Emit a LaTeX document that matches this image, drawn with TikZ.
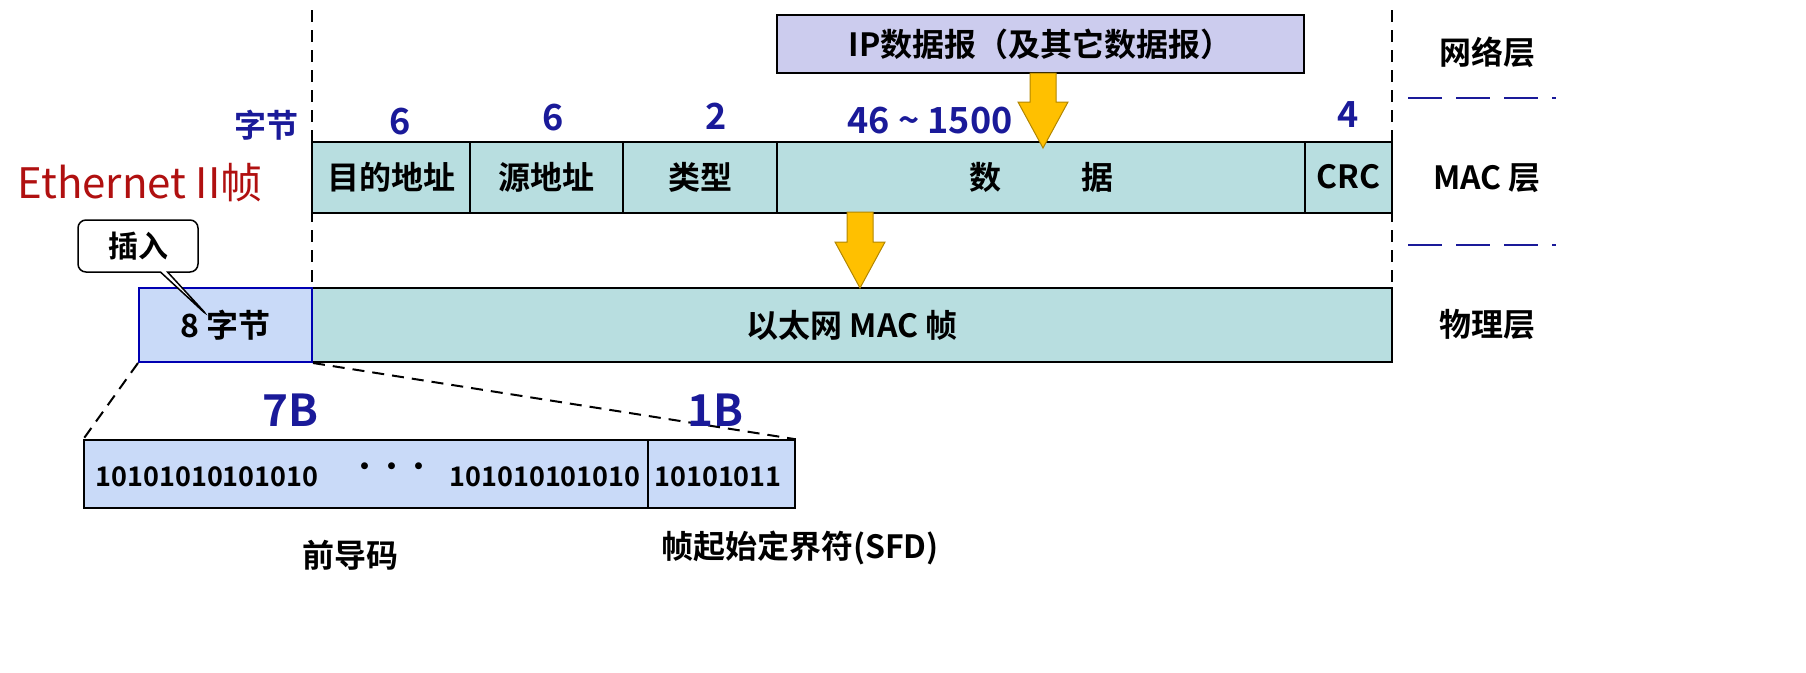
\documentclass[tikz,border=0pt]{standalone}
\usepackage{fontspec}
\setmainfont{Noto Sans CJK SC}[BoldFont={Noto Sans CJK SC Bold}]
\usetikzlibrary{shapes.callouts}
\definecolor{macfill}{HTML}{B8DEE0}
\definecolor{prefill}{HTML}{C9DAF8}
\definecolor{ipfill}{HTML}{CCCCEE}
\definecolor{numblue}{HTML}{1A1A99}
\definecolor{ethred}{HTML}{B01010}
\definecolor{arrowfill}{HTML}{FFC000}
\tikzset{
    field/.style={draw, line width=2pt, fill=macfill, minimum height=71pt, inner sep=0pt, font=\bfseries\fontsize{32}{34}\selectfont},
    num/.style={text=numblue, font=\bfseries\fontsize{36}{38}\selectfont},
    layer/.style={font=\bfseries\fontsize{32}{34}\selectfont},
    bits/.style={font=\bfseries\fontsize{27}{29}\selectfont},
    sep/.style={dashed, numblue, line width=2.5pt, dash pattern=on 34pt off 14pt},
    guide/.style={dashed, line width=2pt, dash pattern=on 12pt off 8pt},
    down/.style={fill=arrowfill, draw=arrowfill!70!black, line width=1pt}
}
\begin{document}
\begin{tikzpicture}[x=1pt, y=-1pt]
\useasboundingbox (0,0) rectangle (1806,672);

% guides
\draw[guide] (312,10) -- (312,288);
\draw[guide] (1392,10) -- (1392,288);

% network layer
\node[field, fill=ipfill, minimum width=527pt, minimum height=58pt, line width=1.5pt] (ip) at (1040.5,44) {IP数据报（及其它数据报）};

% MAC frame fields
\node[field, minimum width=158pt] (dst) at (391,177) {目的地址};
\node[field, minimum width=153pt] (src) at (546.5,177) {源地址};
\node[field, minimum width=154pt] (type) at (700,177) {类型};
\node[field, minimum width=528pt] (data) at (1041,177) {数\hspace{80pt}据};
\node[field, minimum width=87pt] (crc) at (1348.5,177) {CRC};

\node[num, font=\bfseries\fontsize{32}{34}\selectfont] (unit) at (266,125) {字节};
\node[num] (n1) at (400,122) {6};
\node[num] (n2) at (553,118) {6};
\node[num] (n3) at (716,116) {2};
\node[num] (n4) at (930,121) {46 \textasciitilde{} 1500};
\node[num] (n5) at (1348,115) {4};

\node[text=ethred, font=\fontsize{42}{44}\selectfont] (eth) at (140,183) {Ethernet II帧};

% physical layer
\node[field, minimum width=1080pt, minimum height=74pt] (frame) at (852,325) {以太网 MAC 帧};
\node[field, fill=prefill, draw=blue!70!black, minimum width=173pt, minimum height=74pt] (pre) at (225.5,325) {8 字节};

% callout
\node[rectangle callout, rounded corners=8pt, draw, line width=1.5pt, fill=white, minimum width=120pt, minimum height=52pt, font=\bfseries\fontsize{30}{32}\selectfont, callout absolute pointer={(208,316)}] (ins) at (138,246) {插入};

% block arrows
\draw[down] (1030,73) -- (1056,73) -- (1056,102) -- (1068,102) -- (1043,148) -- (1018,102) -- (1030,102) -- cycle;
\draw[down] (847,212) -- (873,212) -- (873,242) -- (885,242) -- (860,288) -- (835,242) -- (847,242) -- cycle;

% layer labels
\node[layer] (net) at (1487,52) {网络层};
\node[layer] (mac) at (1487,178) {MAC 层};
\node[layer] (phy) at (1487,325) {物理层};
\coordinate (s1a) at (1408,98);
\coordinate (s1b) at (1556,98);
\coordinate (s2a) at (1408,245);
\coordinate (s2b) at (1556,245);
\draw[sep] (s1a) -- (s1b);
\draw[sep] (s2a) -- (s2b);

% preamble detail
\node[field, fill=prefill, line width=1.5pt, minimum width=564pt, minimum height=68pt] (pream) at (366,474) {};
\node[field, fill=prefill, line width=1.5pt, minimum width=147pt, minimum height=68pt] (sfd) at (721.5,474) {};
\node[bits] (b1) at (207,477) {10101010101010};
\node[bits] (b2) at (392,470) {···};
\node[bits] (b3) at (545,477) {101010101010};
\node[bits] (b4) at (718,477) {10101011};
\draw[guide] (pre.south west) -- (pream.north west);
\draw[guide] (pre.south east) -- (sfd.north east);

\node[num, font=\bfseries\fontsize{44}{46}\selectfont] (l7) at (290,410) {7B};
\node[num, font=\bfseries\fontsize{44}{46}\selectfont] (l1) at (715,410) {1B};
\node[layer] (prelab) at (350,555) {前导码};
\node[layer] (sfdlab) at (800,548) {帧起始定界符(SFD)};
\end{tikzpicture}
\end{document}
